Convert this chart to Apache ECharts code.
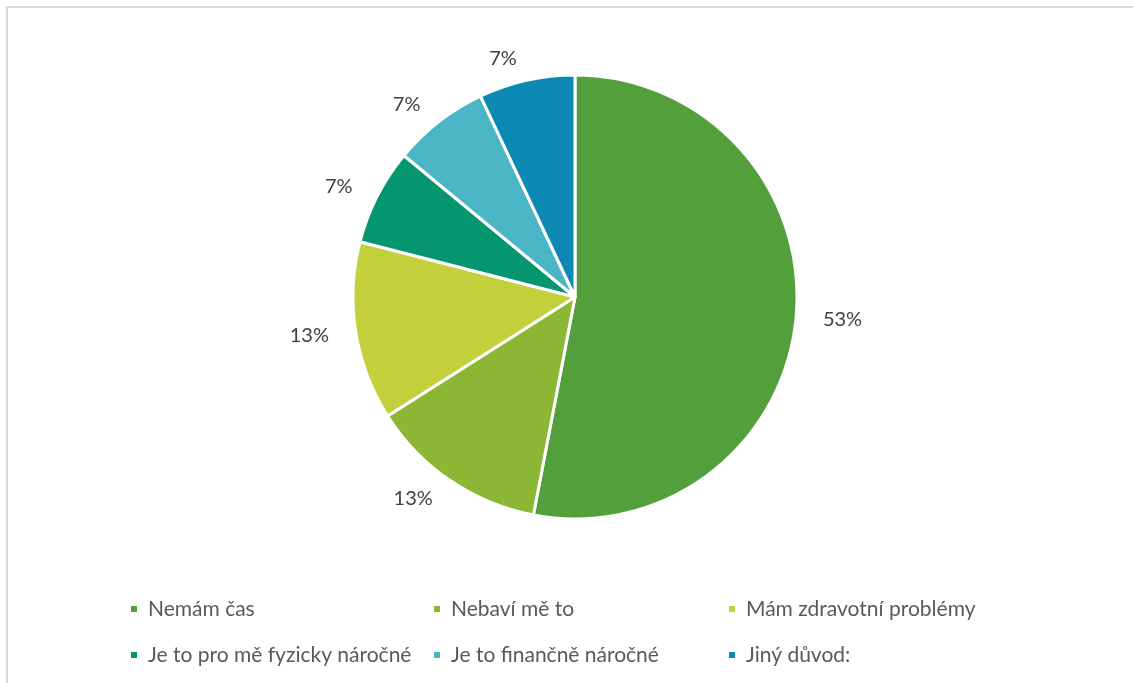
<!DOCTYPE html>
<html>
<head>
<meta charset="utf-8">
<script src="https://cdn.jsdelivr.net/npm/echarts@6/dist/echarts.min.js"></script>
<style>
html,body{margin:0;padding:0;background:#fff;}
#chart{width:1133px;height:683px;}
</style>
</head>
<body>
<div id="chart"></div>
<script>
// odpovědi a podíly (%)
var names = ['Nemám čas', 'Nebaví mě to', 'Mám zdravotní problémy', 'Je to pro mě fyzicky náročné', 'Je to finančně náročné', 'Jiný důvod:'];
var shares = [53, 13, 13, 7, 7, 7];
var colors = ['#539f3b', '#8cb734', '#c2d13b', '#05966f', '#4ab5c5', '#0c89b2'];

var legendCols = [
	[names[0], names[3]],
	[names[1], names[4]],
	[names[2], names[5]]
];
var legendLeft = [124, 427, 722];

var pieData = [];
for (var i = 0; i < names.length; i++) {
	pieData.push({ name: names[i], value: shares[i] });
}

var legends = [];
for (var j = 0; j < legendCols.length; j++) {
	legends.push({
		orient: 'vertical',
		left: legendLeft[j],
		top: 593,
		itemWidth: 8,
		itemHeight: 8,
		itemGap: 24,
		icon: 'rect',
		data: legendCols[j],
		textStyle: {
			fontFamily: 'Lato',
			fontSize: 21,
			lineHeight: 22,
			color: '#595959',
			padding: [0, 0, 0, 5]
		}
	});
}

var chart = echarts.init(document.getElementById('chart'));
chart.setOption({
	color: colors,
	animation: false,
	graphic: [{
		type: 'rect',
		shape: { x: 7, y: 7, width: 1200, height: 720 },
		style: { fill: 'none', stroke: '#d9d9d9', lineWidth: 2 }
	}],
	legend: legends,
	series: [{
		type: 'pie',
		center: [575, 297],
		radius: 222,
		startAngle: 90,
		clockwise: true,
		avoidLabelOverlap: false,
		itemStyle: { borderColor: '#fff', borderWidth: 3 },
		label: {
			show: true,
			position: 'outside',
			formatter: '{c}%',
			fontFamily: 'Lato',
			fontSize: 20,
			color: '#404040',
			distanceToLabelLine: 5
		},
		labelLine: { show: false, length: 22, length2: 0 },
		data: pieData
	}]
});
</script>
</body>
</html>
